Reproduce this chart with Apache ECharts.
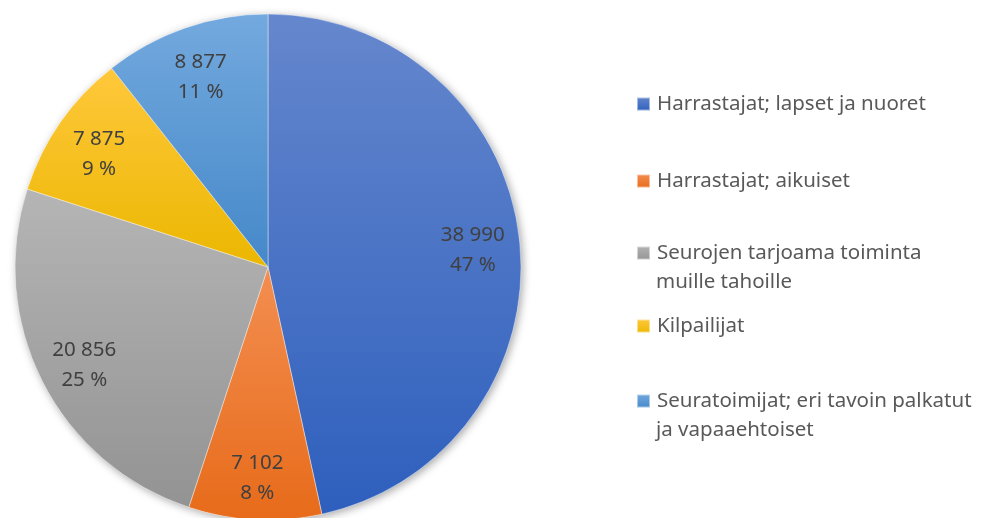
<!DOCTYPE html>
<html>
<head>
<meta charset="utf-8">
<script src="https://cdn.jsdelivr.net/npm/echarts@6/dist/echarts.min.js"></script>
<style>
  html, body { margin: 0; padding: 0; background: #fff; }
  #chart { width: 982px; height: 518px; }
</style>
</head>
<body>
<div id="chart"></div>
<script>
// data
var categories = [
    'Harrastajat; lapset ja nuoret',
    'Harrastajat; aikuiset',
    'Seurojen tarjoama toiminta muille tahoille',
    'Kilpailijat',
    'Seuratoimijat; eri tavoin palkatut ja vapaaehtoiset'
];
var values = [38990, 7102, 20856, 7875, 8877];
var legendLines = [
    ['Harrastajat; lapset ja nuoret'],
    ['Harrastajat; aikuiset'],
    ['Seurojen tarjoama toiminta', 'muille tahoille'],
    ['Kilpailijat'],
    ['Seuratoimijat; eri tavoin palkatut', 'ja vapaaehtoiset']
];

// top / bottom of each slice's gradient
var colors = [
    ['#6587cd', '#2e5fbd'],
    ['#f38e51', '#e76b1a'],
    ['#b5b5b5', '#939393'],
    ['#ffc83c', '#ebb700'],
    ['#73a9de', '#4588c9']
];

var CENTER = [268, 267];
var RADIUS = 253;
var FONT = '"Noto Sans", "Open Sans", sans-serif';

function fmtNumber(v) {
    return String(v).replace(/\B(?=(\d{3})+(?!\d))/g, ' ');
}

function gradient(c) {
    return new echarts.graphic.LinearGradient(0, 0, 0, 1, [
        { offset: 0, color: c[0] },
        { offset: 1, color: c[1] }
    ]);
}

var sliceData = categories.map(function (name, i) {
    return {
        name: name,
        value: values[i],
        itemStyle: { color: gradient(colors[i]) }
    };
});

// one legend per line so the icon sits on the first line like in Excel
var lineCenters = [[104], [181], [253, 282], [326], [401, 430]];
var legends = [];
categories.forEach(function (name, i) {
    legendLines[i].forEach(function (line, j) {
        legends.push({
            data: [name],
            left: 636,
            top: lineCenters[i][j] - 13,
            orient: 'vertical',
            padding: 0,
            selectedMode: false,
            icon: j === 0 ? 'rect' : 'none',
            itemWidth: 13,
            itemHeight: 13,
            formatter: function () { return line; },
            textStyle: {
                fontFamily: FONT,
                fontSize: 20.5,
                lineHeight: 26,
                color: '#595959',
                padding: [0, 0, 0, 2]
            }
        });
    });
});

var chart = echarts.init(document.getElementById('chart'));
chart.setOption({
    animation: false,
    backgroundColor: '#fff',
    legend: legends,
    series: [
        {
            type: 'pie',
            center: CENTER,
            radius: RADIUS,
            z: 2,
            silent: true,
            label: { show: false },
            labelLine: { show: false },
            itemStyle: { borderColor: 'rgba(255,255,255,0.5)', borderWidth: 0.8 },
            data: sliceData
        },
        {
            // soft drop shadow under the whole pie
            type: 'pie',
            center: CENTER,
            radius: RADIUS,
            z: 1,
            silent: true,
            label: { show: false },
            labelLine: { show: false },
            itemStyle: {
                color: '#fff',
                shadowBlur: 8,
                shadowOffsetX: 2,
                shadowOffsetY: 2,
                shadowColor: 'rgba(0,0,0,0.35)'
            },
            data: sliceData.map(function (d) { return { name: d.name, value: d.value, itemStyle: { color: '#fff' } }; })
        },
        {
            // ring only used to place the data labels at ~80% of the radius
            type: 'pie',
            center: CENTER,
            radius: [153, RADIUS],
            z: 3,
            silent: true,
            avoidLabelOverlap: false,
            itemStyle: { color: 'rgba(0,0,0,0)' },
            label: {
                show: true,
                position: 'inside',
                offset: [0, 5],
                fontFamily: FONT,
                fontSize: 20.5,
                lineHeight: 30,
                color: '#404040',
                formatter: function (p) {
                    return fmtNumber(p.value) + '\n' + Math.round(p.percent) + ' %';
                }
            },
            labelLine: { show: false },
            data: categories.map(function (name, i) {
                return { name: name, value: values[i], itemStyle: { color: 'rgba(0,0,0,0)' } };
            })
        }
    ]
});
</script>
</body>
</html>
